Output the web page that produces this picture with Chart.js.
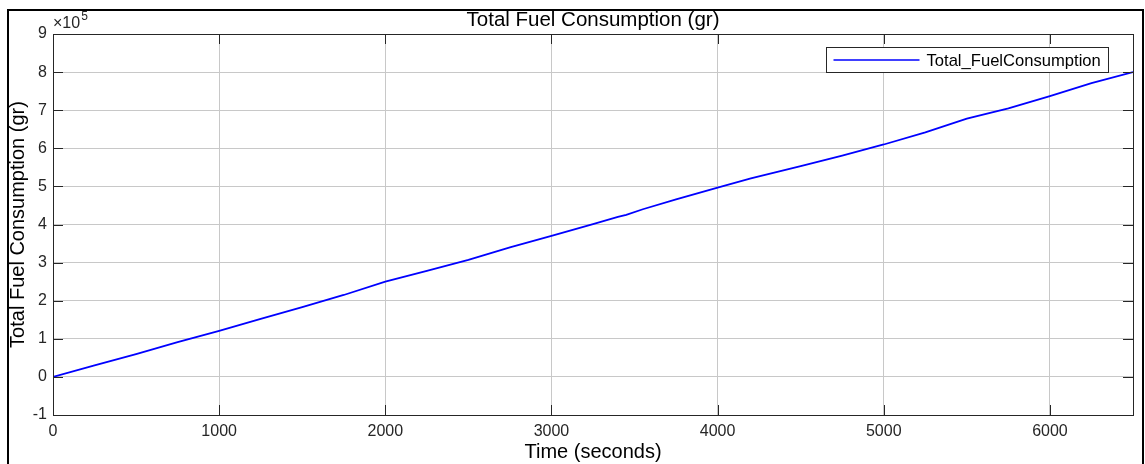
<!DOCTYPE html>
<html>
<head>
<meta charset="utf-8">
<script src="https://cdn.jsdelivr.net/npm/chart.js@4/dist/chart.umd.min.js"></script>
<style>
    html, body { margin: 0; padding: 0; background: #fff; }
    #wrap { width: 1145px; height: 464px; }
</style>
</head>
<body>
<div id="wrap"><canvas id="fuelChart" width="1145" height="464"></canvas></div>
<script>
// time (s) and cumulative fuel (gr)
const timeSec = [0, 250, 500, 750, 1000, 1250, 1500, 1750, 2000, 2250, 2500, 2750, 3000, 3250, 3400, 3450, 3550, 3750, 4000, 4200, 4500, 4750, 5000, 5250, 5500, 5750, 6000, 6250, 6500];
const fuelGr = [0, 30000, 60000, 91000, 121000, 152000, 183000, 215000, 250000, 278000, 307000, 340000, 370000, 401000, 420000, 425000, 440000, 466000, 497000, 521000, 553000, 581000, 610000, 642000, 678000, 705000, 737000, 771000, 800000];
const xTicks = [0, 1000, 2000, 3000, 4000, 5000, 6000];
const yTicks = [-1, 0, 1, 2, 3, 4, 5, 6, 7, 8, 9];
const yScaleExp = 5;

const FONT = "'Liberation Sans', Arial, Helvetica, sans-serif";
const AXIS_COLOR = '#262626';

const points = timeSec.map((t, i) => ({ x: t, y: fuelGr[i] }));

// frame, title, box, inner ticks, exponent label and legend (MATLAB look)
const matlabDecor = {
    id: 'matlabDecor',
    beforeDraw(chart) {
        const ctx = chart.ctx;
        ctx.save();
        ctx.fillStyle = '#fff';
        ctx.fillRect(0, 0, chart.width, chart.height);
        ctx.strokeStyle = '#000';
        ctx.lineWidth = 2;
        ctx.strokeRect(8, 10, chart.width - 10, chart.height + 20);
        ctx.restore();
    },
    afterDatasetsDraw(chart) {
        const { ctx, chartArea: a, scales } = chart;
        ctx.save();

        // axes box
        ctx.strokeStyle = AXIS_COLOR;
        ctx.lineWidth = 1;
        ctx.strokeRect(Math.round(a.left) + 0.5, Math.round(a.top) + 0.5,
            Math.round(a.right - a.left), Math.round(a.bottom - a.top));

        // inward ticks
        const tl = 10;
        ctx.beginPath();
        xTicks.forEach(v => {
            const x = Math.round(scales.x.getPixelForValue(v)) + 0.5;
            ctx.moveTo(x, a.bottom); ctx.lineTo(x, a.bottom - tl);
            ctx.moveTo(x, a.top); ctx.lineTo(x, a.top + tl);
        });
        yTicks.forEach(v => {
            const y = Math.round(scales.y.getPixelForValue(v * Math.pow(10, yScaleExp))) + 0.5;
            ctx.moveTo(a.left, y); ctx.lineTo(a.left + tl, y);
            ctx.moveTo(a.right, y); ctx.lineTo(a.right - tl, y);
        });
        ctx.stroke();

        // title
        ctx.fillStyle = '#000';
        ctx.font = '20.5px ' + FONT;
        ctx.textAlign = 'center';
        ctx.textBaseline = 'middle';
        ctx.fillText('Total Fuel Consumption (gr)', (a.left + a.right) / 2, 20);

        // x10^5 label
        ctx.fillStyle = AXIS_COLOR;
        ctx.textAlign = 'left';
        ctx.font = '16px ' + FONT;
        ctx.fillText('\u00d710', a.left, 24);
        const w = ctx.measureText('\u00d710').width;
        ctx.font = '12px ' + FONT;
        ctx.fillText(String(yScaleExp), a.left + 1 + w, 17);

        // legend
        const ds = chart.data.datasets[0];
        const lx = 826.5, ly = 47.5, lw = 282, lh = 25;
        ctx.fillStyle = '#fff';
        ctx.fillRect(lx, ly, lw, lh);
        ctx.strokeStyle = AXIS_COLOR;
        ctx.lineWidth = 1;
        ctx.strokeRect(lx, ly, lw, lh);
        ctx.strokeStyle = ds.borderColor;
        ctx.lineWidth = 1.5;
        ctx.beginPath();
        ctx.moveTo(lx + 7, ly + lh / 2);
        ctx.lineTo(lx + 93, ly + lh / 2);
        ctx.stroke();
        ctx.fillStyle = '#000';
        ctx.font = '16.6px ' + FONT;
        ctx.textAlign = 'left';
        ctx.textBaseline = 'middle';
        ctx.fillText(ds.label, lx + 100, ly + lh / 2 + 1);

        ctx.restore();
    }
};

new Chart(document.getElementById('fuelChart'), {
    type: 'line',
    data: {
        datasets: [{
            label: 'Total_FuelConsumption',
            data: points,
            borderColor: '#0000ff',
            borderWidth: 1.8,
            pointRadius: 0,
            tension: 0,
            fill: false
        }]
    },
    options: {
        responsive: false,
        animation: false,
        layout: { padding: { left: 0, top: 34, right: 12, bottom: 0 } },
        plugins: {
            legend: { display: false },
            tooltip: { enabled: false },
            title: { display: false }
        },
        scales: {
            x: {
                type: 'linear',
                min: 0,
                max: 6500,
                afterFit: s => { s.height = 49; },
                afterBuildTicks: s => { s.ticks = xTicks.map(v => ({ value: v })); },
                grid: { color: '#c8c8c8', drawTicks: false, lineWidth: 1 },
                border: { display: false },
                ticks: {
                    color: AXIS_COLOR,
                    padding: 7,
                    maxRotation: 0,
                    font: { family: FONT, size: 16 },
                    callback: v => String(v)
                },
                title: {
                    display: true,
                    text: 'Time (seconds)',
                    color: '#000',
                    font: { family: FONT, size: 20 },
                    padding: { top: 0, bottom: 0 }
                }
            },
            y: {
                min: -100000,
                max: 900000,
                afterFit: s => { s.width = 53; },
                afterBuildTicks: s => { s.ticks = yTicks.map(v => ({ value: v * Math.pow(10, yScaleExp) })); },
                grid: { color: '#c8c8c8', drawTicks: false, lineWidth: 1 },
                border: { display: false },
                ticks: {
                    color: AXIS_COLOR,
                    padding: 6,
                    font: { family: FONT, size: 16 },
                    callback: v => String(Math.round(v / Math.pow(10, yScaleExp)))
                },
                title: {
                    display: true,
                    text: 'Total Fuel Consumption (gr)',
                    color: '#000',
                    font: { family: FONT, size: 20 },
                    padding: { top: 6, bottom: 0 }
                }
            }
        }
    },
    plugins: [matlabDecor]
});
</script>
</body>
</html>
